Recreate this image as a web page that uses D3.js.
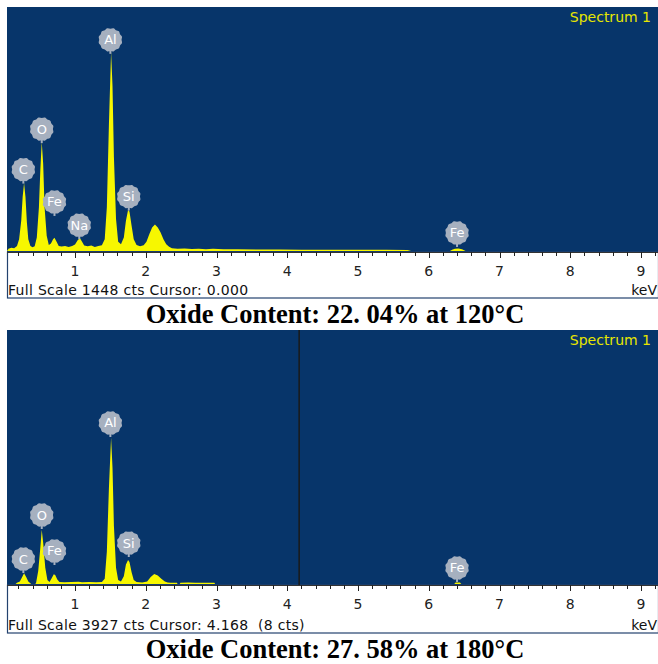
<!DOCTYPE html>
<html>
<head>
<meta charset="utf-8">
<script src="https://cdn.jsdelivr.net/npm/d3@7"></script>
<style>
  html, body { margin: 0; padding: 0; background: #ffffff; }
  svg { display: block; }
</style>
</head>
<body>
<svg id="chart" width="658" height="664"></svg>
<script>
// EDS spectra, two panels (keV vs counts)

const keVTicks = [1, 2, 3, 4, 5, 6, 7, 8, 9];
const minorStep = 0.2;

const fullScales = [1448, 3927];
const infoTexts = ['Full Scale 1448 cts Cursor: 0.000', 'Full Scale 3927 cts Cursor: 4.168  (8 cts)'];
const captions = ['Oxide Content: 22. 04% at 120\u00B0C', 'Oxide Content: 27. 58% at 180\u00B0C'];
const cursorKeV = [null, 4.168];

// [keV, cts]
const spectrum120 = [
  [0.04, 0], [0.06, 14], [0.10, 20], [0.14, 16], [0.18, 30], [0.21, 70], [0.24, 180], [0.26, 320],
  [0.28, 404], [0.30, 320], [0.32, 170], [0.34, 70], [0.37, 30], [0.40, 22], [0.43, 28], [0.46, 80],
  [0.49, 260], [0.51, 480], [0.53, 647], [0.55, 520], [0.57, 260], [0.60, 90], [0.63, 35], [0.66, 45],
  [0.69, 70], [0.71, 78], [0.74, 55], [0.77, 30], [0.81, 26], [0.86, 30], [0.91, 24], [0.96, 30],
  [1.00, 38], [1.04, 66], [1.07, 76], [1.10, 55], [1.13, 32], [1.18, 28], [1.23, 32], [1.28, 24],
  [1.33, 30], [1.38, 34], [1.42, 70], [1.45, 260], [1.48, 760], [1.51, 1181], [1.53, 980], [1.55, 560],
  [1.58, 190], [1.61, 55], [1.65, 40], [1.69, 80], [1.72, 180], [1.75, 243], [1.77, 235], [1.80, 150],
  [1.83, 70], [1.87, 35], [1.92, 28], [1.97, 34], [2.01, 55], [2.05, 100], [2.09, 140], [2.13, 157],
  [2.17, 140], [2.21, 110], [2.25, 70], [2.29, 40], [2.33, 25], [2.37, 16], [2.45, 13], [2.55, 15],
  [2.65, 12], [2.75, 14], [2.85, 11], [2.95, 13], [3.1, 11], [3.3, 10], [3.6, 9], [3.9, 9], [4.2, 8],
  [4.5, 8], [4.8, 7], [5.1, 7], [5.4, 7], [5.7, 6], [5.75, 0], [6.30, 0], [6.33, 8], [6.37, 14],
  [6.42, 15], [6.47, 10], [6.52, 0]
];

const spectrum180 = [
  [0.16, 0], [0.18, 20], [0.22, 40], [0.25, 100], [0.28, 165], [0.31, 110], [0.34, 40], [0.37, 10],
  [0.38, 0], [0.44, 0], [0.45, 20], [0.48, 200], [0.51, 560], [0.53, 837], [0.55, 640], [0.58, 250],
  [0.61, 60], [0.64, 30], [0.67, 90], [0.70, 150], [0.72, 140], [0.75, 70], [0.78, 30], [0.85, 28],
  [0.95, 30], [1.05, 35], [1.10, 28], [1.20, 30], [1.30, 28], [1.38, 30], [1.42, 80], [1.45, 500],
  [1.48, 1500], [1.51, 2263], [1.53, 1800], [1.55, 900], [1.58, 250], [1.61, 60], [1.65, 40], [1.69, 120],
  [1.72, 300], [1.75, 372], [1.77, 340], [1.80, 180], [1.83, 60], [1.87, 30], [1.95, 25], [2.02, 40],
  [2.07, 110], [2.12, 155], [2.17, 130], [2.22, 80], [2.27, 40], [2.31, 22], [2.35, 20], [2.44, 20],
  [2.45, 0], [2.48, 0], [2.49, 20], [2.6, 22], [2.7, 18], [2.8, 21], [2.9, 20], [2.97, 18], [2.98, 0],
  [6.36, 0], [6.38, 24], [6.44, 24], [6.46, 0]
];

// element markers: [symbol, keV, stem-tip cts]
const peaks120 = [['C', 0.27, 400], ['O', 0.53, 640], ['Fe', 0.71, 208], ['Na', 1.06, 70],
  ['Al', 1.50, 1170], ['Si', 1.76, 240], ['Fe', 6.40, 24]];
const peaks180 = [['C', 0.27, 170], ['O', 0.53, 850], ['Fe', 0.71, 294], ['Al', 1.50, 2273],
  ['Si', 1.76, 417], ['Fe', 6.40, 31]];

const spectra = [spectrum120, spectrum180];
const peakSets = [peaks120, peaks180];

// ---- layout ----
const W = 658;
const panels = [
  { top: 7, base: 252, axisBottom: 298, capY: 323 },
  { top: 330, base: 585, axisBottom: 633, capY: 658 }
];
const left = 7;
const BLUE = '#07356a';
const YELLOW = '#f7f700';
const BUBBLE = '#a6b0bf';
const uiFont = '"DejaVu Sans", Verdana, sans-serif';

const svg = d3.select('#chart');
const x = d3.scaleLinear().domain([0, 9]).range([4.25, 4.25 + 9 * 70.75]);
const minorTicks = d3.range(minorStep, 9.3, minorStep).map(v => +v.toFixed(1));

panels.forEach((p, i) => {
  const g = svg.append('g');
  const y = d3.scaleLinear().domain([0, fullScales[i]]).range([p.base - 1, p.top]);

  g.append('clipPath').attr('id', 'clip' + i)
    .append('rect').attr('x', left).attr('y', p.top).attr('width', W - left).attr('height', p.base - p.top);

  // plot background
  g.append('rect').attr('x', left).attr('y', p.top).attr('width', W - left).attr('height', p.base - p.top)
    .attr('fill', BLUE);

  // axis area
  g.append('rect').attr('x', left + 0.5).attr('y', p.base).attr('width', W - left).attr('height', p.axisBottom - p.base)
    .attr('fill', '#ffffff').attr('stroke', '#23426e').attr('stroke-width', 1.2);

  // spectrum
  const area = d3.area()
    .x(d => x(d[0]))
    .y0(y(0))
    .y1(d => y(d[1]));
  g.append('path').datum(spectra[i])
    .attr('clip-path', `url(#clip${i})`)
    .attr('d', area)
    .attr('fill', YELLOW);

  // cursor
  if (cursorKeV[i] !== null) {
    g.append('line')
      .attr('x1', x(cursorKeV[i])).attr('x2', x(cursorKeV[i]))
      .attr('y1', p.top).attr('y2', p.base)
      .attr('stroke', '#1a1a1a').attr('stroke-width', 1.5);
  }

  // ticks
  g.append('line').attr('x1', left).attr('x2', W).attr('y1', p.base + 0.5).attr('y2', p.base + 0.5)
    .attr('stroke', '#333').attr('stroke-width', 1);
  g.selectAll('.minor').data(minorTicks).enter().append('line')
    .attr('class', 'minor')
    .attr('x1', d => Math.round(x(d)) + 0.5).attr('x2', d => Math.round(x(d)) + 0.5)
    .attr('y1', p.base).attr('y2', d => Number.isInteger(d) ? p.base + 6 : p.base + 4)
    .attr('stroke', '#222').attr('stroke-width', 1);

  g.selectAll('.ticklabel').data(keVTicks).enter().append('text')
    .attr('class', 'ticklabel')
    .attr('x', d => x(d)).attr('y', p.base + 24)
    .attr('text-anchor', 'middle')
    .attr('font-family', uiFont).attr('font-size', 14).attr('fill', '#222')
    .text(d => d);

  g.append('text').attr('x', 8).attr('y', p.axisBottom - 3)
    .attr('font-family', uiFont).attr('font-size', 14).attr('fill', '#111')
    .attr('letter-spacing', 0.3)
    .style('white-space', 'pre')
    .text(infoTexts[i]);
  g.append('text').attr('x', W - 1).attr('y', p.axisBottom - 3)
    .attr('text-anchor', 'end')
    .attr('font-family', uiFont).attr('font-size', 14).attr('fill', '#111')
    .text('keV');

  g.append('text').attr('x', 651).attr('y', p.top + 15)
    .attr('text-anchor', 'end')
    .attr('font-family', uiFont).attr('font-size', 14).attr('fill', '#e6e600')
    .text('Spectrum 1');

  // element bubbles
  const bump = d3.lineRadial().curve(d3.curveCardinalClosed)
    .angle((d, k) => k * Math.PI * 2 / 24)
    .radius((d, k) => (k % 2 ? 12 : 11.2));
  const bubbles = g.selectAll('.bubble').data(peakSets[i]).enter().append('g')
    .attr('class', 'bubble')
    .attr('transform', d => `translate(${x(d[1])},${y(d[2])})`);
  bubbles.append('line').attr('x1', 0).attr('x2', 0).attr('y1', -4).attr('y2', 0)
    .attr('stroke', BUBBLE).attr('stroke-width', 2);
  bubbles.append('path')
    .attr('transform', 'translate(0,-14)')
    .attr('d', bump(d3.range(24)))
    .attr('fill', BUBBLE);
  bubbles.append('text').attr('y', -9.5)
    .attr('text-anchor', 'middle')
    .attr('font-family', uiFont).attr('font-size', 13).attr('fill', '#ffffff')
    .text(d => d[0]);

  // caption
  svg.append('text').attr('x', 335).attr('y', p.capY)
    .attr('text-anchor', 'middle')
    .attr('font-family', '"Liberation Serif", "Times New Roman", serif')
    .attr('font-weight', 'bold').attr('font-size', 26.5).attr('fill', '#000')
    .text(captions[i]);
});
</script>
</body>
</html>
